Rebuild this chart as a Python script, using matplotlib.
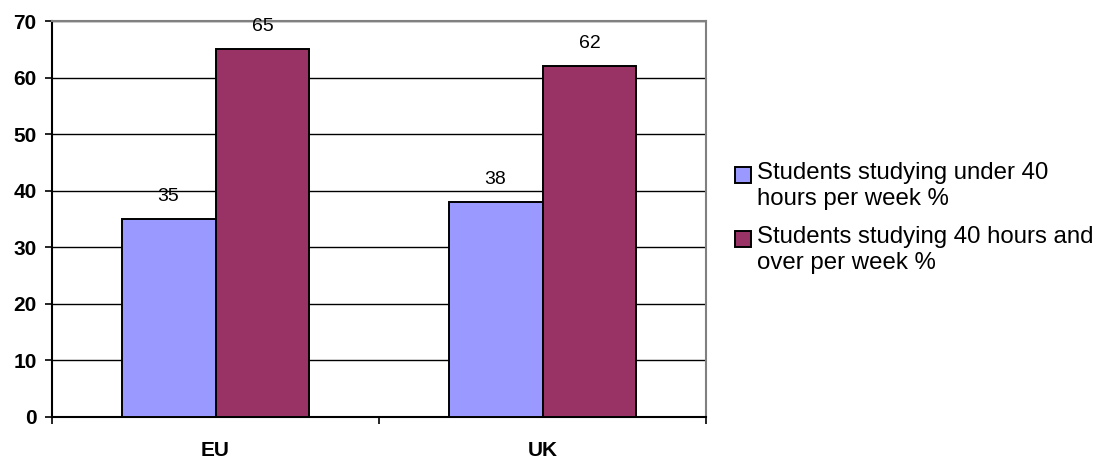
import matplotlib
matplotlib.use("Agg")
import matplotlib.pyplot as plt
from matplotlib.patches import Rectangle
import numpy as np

categories = ["EU", "UK"]
under_40 = [35, 38]
over_40 = [65, 62]
series_labels = [
    "Students studying under 40\nhours per week %",
    "Students studying 40 hours and\nover per week %",
]
colors = ["#9999FF", "#993366"]

plt.rcParams["font.family"] = ["Liberation Sans", "DejaVu Sans"]

W, H = 1104, 459
fig = plt.figure(figsize=(W / 100, H / 100), dpi=100)
ax = fig.add_axes([52 / W, 42 / H, 654 / W, 396 / H])

centers = np.arange(len(categories)) + 0.5
width = 0.287
for offset, vals, color in zip((-width / 2, width / 2), (under_40, over_40), colors):
    b = ax.bar(centers + offset, vals, width, color=color, edgecolor="black", linewidth=1.4, zorder=3)
    for rect, v in zip(b, vals):
        ax.annotate(f"{v}", (rect.get_x() + rect.get_width() / 2, v), xytext=(0, 16.5),
                    textcoords="offset points", ha="center", va="center", fontsize=14,
                    zorder=5, annotation_clip=False)

ax.set_xlim(0, len(categories))
ax.set_ylim(0, 70)
ax.set_yticks(np.arange(0, 71, 10))
ax.set_yticklabels([str(t) for t in range(0, 71, 10)], fontweight="bold", fontsize=15)
ax.yaxis.grid(True, color="black", linewidth=1.0, zorder=0)
ax.set_axisbelow(True)

ax.set_xticks(np.arange(len(categories) + 1))
ax.set_xticklabels([])
ax.set_xticks(centers, minor=True)
ax.set_xticklabels(categories, minor=True, fontweight="bold", fontsize=15)
ax.tick_params(axis="x", which="minor", length=0, pad=17)
ax.tick_params(axis="both", which="major", length=5, width=1.2, direction="out", color="black")
ax.tick_params(axis="y", pad=6)

for side in ("left", "bottom"):
    ax.spines[side].set_color("black")
    ax.spines[side].set_linewidth(1.5)
for side in ("top", "right"):
    ax.spines[side].set_color("#808080")
    ax.spines[side].set_linewidth(1.5)

# legend drawn by hand so the swatch lines up with the first text line
for label, color, y_mid in zip(series_labels, colors, (175, 239)):
    fig.patches.append(Rectangle((735 / W, 1 - (y_mid + 8) / H), 16 / W, 16 / H,
                                 transform=fig.transFigure, facecolor=color,
                                 edgecolor="black", linewidth=1.4))
    fig.text(757 / W, 1 - (y_mid - 13) / H, label, ha="left", va="top",
             fontsize=17.3, linespacing=1.25)

fig.savefig("out.png", dpi=100)
